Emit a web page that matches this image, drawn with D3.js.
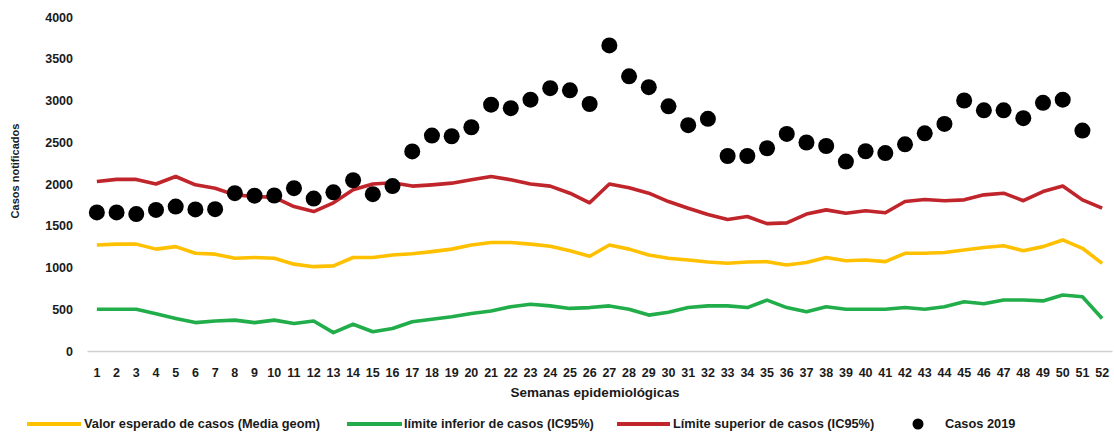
<!DOCTYPE html>
<html>
<head>
<meta charset="utf-8">
<script src="https://cdn.jsdelivr.net/npm/d3@7"></script>
<style>
  html, body { margin: 0; padding: 0; background: #fff; }
  svg { display: block; }
  text { font-family: "Liberation Sans", Arial, sans-serif; font-weight: bold; fill: #1a1a1a; }
</style>
</head>
<body>
<svg id="chart" width="1114" height="433"></svg>
<script>
// Semanas epidemiológicas 1–52
const semanas = d3.range(1, 53);

// Valor esperado de casos (media geométrica)
const esperado = [1270, 1280, 1280, 1220, 1250, 1170, 1160, 1110, 1120, 1110,
  1040, 1010, 1020, 1120, 1120, 1150, 1165, 1190, 1220, 1270,
  1300, 1300, 1280, 1255, 1200, 1135, 1270, 1220, 1150, 1110,
  1090, 1065, 1050, 1065, 1070, 1030, 1060, 1120, 1080, 1090,
  1070, 1170, 1170, 1180, 1210, 1240, 1260, 1200, 1250, 1330,
  1230, 1050];

// Límite inferior de casos (IC95%)
const inferior = [500, 500, 500, 445, 390, 340, 360, 370, 340, 370,
  330, 360, 220, 320, 230, 270, 350, 380, 410, 450,
  480, 530, 560, 540, 510, 520, 540, 500, 430, 465,
  520, 540, 540, 520, 610, 520, 470, 530, 500, 500,
  500, 520, 500, 530, 590, 565, 610, 610, 600, 670,
  650, 390];

// Límite superior de casos (IC95%)
const superior = [2030, 2055, 2055, 2000, 2090, 1990, 1950, 1870, 1850, 1840,
  1730, 1670, 1775, 1930, 2000, 2015, 1975, 1990, 2010, 2050,
  2090, 2050, 2000, 1975, 1890, 1775, 2000, 1955, 1890, 1790,
  1710, 1635, 1575, 1610, 1525, 1535, 1640, 1690, 1650, 1680,
  1655, 1790, 1815, 1800, 1810, 1870, 1890, 1800, 1910, 1975,
  1810, 1710];

// Casos 2019 (semanas 1–51)
const casos2019 = [1660, 1660, 1640, 1690, 1730, 1695, 1698, 1890, 1860, 1862,
  1950, 1825, 1900, 2045, 1878, 1975, 2390, 2580, 2572, 2680,
  2950, 2908, 3010, 3148, 3122, 2958, 3660, 3290, 3160, 2930,
  2705, 2780, 2335, 2335, 2428, 2600, 2497, 2455, 2268, 2392,
  2370, 2475, 2607, 2720, 3000, 2882, 2882, 2788, 2972, 3010,
  2640];

const yTicks = [0, 500, 1000, 1500, 2000, 2500, 3000, 3500, 4000];

const leyenda = [
  { label: "Valor esperado de casos (Media geom)", type: "line", color: "#FFC000" },
  { label: "límite inferior de casos (IC95%)", type: "line", color: "#22AD4B" },
  { label: "Límite superior de casos (IC95%)", type: "line", color: "#C0252B" },
  { label: "Casos 2019", type: "dot", color: "#000000" }
];

const svg = d3.select("#chart");
const margin = { left: 87, right: 2, top: 17, bottom: 82 };
const W = 1114, H = 433;

const x = d3.scaleBand()
  .domain(semanas)
  .range([margin.left, W - margin.right])
  .paddingInner(0).paddingOuter(0);

const y = d3.scaleLinear()
  .domain([0, 4000])
  .range([H - margin.bottom, margin.top]);

const cx = d => x(d) + x.bandwidth() / 2;

const styleTicks = sel => sel.selectAll("text")
  .style("font-size", "12.5px")
  .style("font-family", "'Liberation Sans', Arial, sans-serif")
  .style("font-weight", "bold")
  .attr("fill", "#1a1a1a");

// Eje Y (sin línea, solo etiquetas)
const yAxis = svg.append("g")
  .attr("transform", `translate(${margin.left - 14},0)`)
  .call(d3.axisLeft(y).tickValues(yTicks).tickSize(0).tickPadding(0).tickFormat(d3.format("d")));
yAxis.select(".domain").remove();
styleTicks(yAxis);

// Eje X
const xAxis = svg.append("g")
  .attr("transform", `translate(0,${y(0)})`)
  .call(d3.axisBottom(x).tickSize(0).tickPadding(17));
xAxis.select(".domain").attr("stroke", "#d0d0d0").attr("stroke-width", 1.5);
styleTicks(xAxis);

// Títulos de ejes
svg.append("text")
  .attr("transform", `translate(15,${(y(0) + y(4000)) / 2 - 13}) rotate(-90)`)
  .attr("text-anchor", "middle")
  .attr("dy", "0.35em")
  .style("font-size", "11px")
  .text("Casos notificados");

svg.append("text")
  .attr("x", 595)
  .attr("y", 397)
  .attr("text-anchor", "middle")
  .style("font-size", "13.5px")
  .text("Semanas epidemiológicas");

// Líneas
const line = d3.line()
  .x((d, i) => cx(semanas[i]))
  .y(d => y(d));

[[esperado, leyenda[0].color], [inferior, leyenda[1].color], [superior, leyenda[2].color]]
  .forEach(([serie, color]) => {
    svg.append("path")
      .datum(serie)
      .attr("fill", "none")
      .attr("stroke", color)
      .attr("stroke-width", 3.6)
      .attr("stroke-linejoin", "round")
      .attr("d", line);
  });

// Puntos: casos 2019
svg.append("g")
  .selectAll("circle")
  .data(casos2019)
  .join("circle")
  .attr("cx", (d, i) => cx(semanas[i]))
  .attr("cy", d => y(d))
  .attr("r", 8)
  .attr("fill", "#000");

// Leyenda
const legendPos = [
  { x0: 27, x1: 81, tx: 84 },
  { x0: 347, x1: 402, tx: 404 },
  { x0: 617, x1: 670, tx: 673 },
  { x0: 918, x1: 918, tx: 945 }
];
const ly = 424;
const lg = svg.append("g");
leyenda.forEach((item, i) => {
  const p = legendPos[i];
  if (item.type === "line") {
    lg.append("line")
      .attr("x1", p.x0).attr("x2", p.x1)
      .attr("y1", ly).attr("y2", ly)
      .attr("stroke", item.color)
      .attr("stroke-width", 4);
  } else {
    lg.append("circle")
      .attr("cx", p.x0).attr("cy", ly)
      .attr("r", 5.5).attr("fill", item.color);
  }
  lg.append("text")
    .attr("x", p.tx)
    .attr("y", ly)
    .attr("dy", "0.35em")
    .style("font-size", "12.8px")
    .text(item.label);
});
</script>
</body>
</html>
